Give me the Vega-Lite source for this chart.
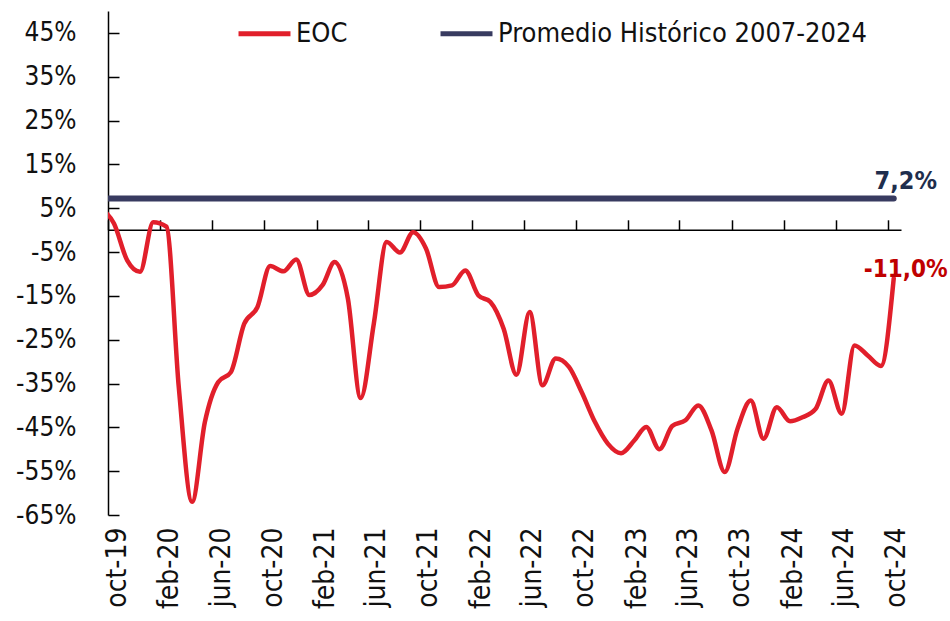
{
  "$schema": "https://vega.github.io/schema/vega-lite/v6.json",
  "width": 793,
  "height": 504,
  "autosize": "none",
  "padding": {"left": 108, "top": 11, "right": 49, "bottom": 106},
  "background": "white",
  "config": {
    "view": {"stroke": null},
    "font": "DejaVu Sans Condensed",
    "axis": {"labelFont": "DejaVu Sans Condensed", "labelColor": "#111111", "grid": false, "title": null},
    "legend": {"labelFont": "DejaVu Sans Condensed"}
  },
  "datasets": {
    "eoc": [
      {"date": "2019-09-15", "value": 5.0, "series": "EOC"},
      {"date": "2019-10-15", "value": 1.5, "series": "EOC"},
      {"date": "2019-11-15", "value": -6.9, "series": "EOC"},
      {"date": "2019-12-15", "value": -9.5, "series": "EOC"},
      {"date": "2020-01-15", "value": 1.8, "series": "EOC"},
      {"date": "2020-02-15", "value": 0.8, "series": "EOC"},
      {"date": "2020-03-15", "value": -36.0, "series": "EOC"},
      {"date": "2020-04-15", "value": -62.0, "series": "EOC"},
      {"date": "2020-05-15", "value": -43.8, "series": "EOC"},
      {"date": "2020-06-15", "value": -34.7, "series": "EOC"},
      {"date": "2020-07-15", "value": -32.4, "series": "EOC"},
      {"date": "2020-08-15", "value": -21.4, "series": "EOC"},
      {"date": "2020-09-15", "value": -17.6, "series": "EOC"},
      {"date": "2020-10-15", "value": -8.2, "series": "EOC"},
      {"date": "2020-11-15", "value": -9.4, "series": "EOC"},
      {"date": "2020-12-15", "value": -6.7, "series": "EOC"},
      {"date": "2021-01-15", "value": -14.8, "series": "EOC"},
      {"date": "2021-02-15", "value": -12.5, "series": "EOC"},
      {"date": "2021-03-15", "value": -7.3, "series": "EOC"},
      {"date": "2021-04-15", "value": -15.6, "series": "EOC"},
      {"date": "2021-05-15", "value": -38.3, "series": "EOC"},
      {"date": "2021-06-15", "value": -21.2, "series": "EOC"},
      {"date": "2021-07-15", "value": -2.7, "series": "EOC"},
      {"date": "2021-08-15", "value": -5.1, "series": "EOC"},
      {"date": "2021-09-15", "value": -0.5, "series": "EOC"},
      {"date": "2021-10-15", "value": -4.2, "series": "EOC"},
      {"date": "2021-11-15", "value": -13.0, "series": "EOC"},
      {"date": "2021-12-15", "value": -12.6, "series": "EOC"},
      {"date": "2022-01-15", "value": -9.2, "series": "EOC"},
      {"date": "2022-02-15", "value": -14.9, "series": "EOC"},
      {"date": "2022-03-15", "value": -16.4, "series": "EOC"},
      {"date": "2022-04-15", "value": -22.5, "series": "EOC"},
      {"date": "2022-05-15", "value": -33.0, "series": "EOC"},
      {"date": "2022-06-15", "value": -18.7, "series": "EOC"},
      {"date": "2022-07-15", "value": -35.4, "series": "EOC"},
      {"date": "2022-08-15", "value": -29.3, "series": "EOC"},
      {"date": "2022-09-15", "value": -31.2, "series": "EOC"},
      {"date": "2022-10-15", "value": -37.0, "series": "EOC"},
      {"date": "2022-11-15", "value": -43.8, "series": "EOC"},
      {"date": "2022-12-15", "value": -48.7, "series": "EOC"},
      {"date": "2023-01-15", "value": -50.9, "series": "EOC"},
      {"date": "2023-02-15", "value": -48.0, "series": "EOC"},
      {"date": "2023-03-15", "value": -44.9, "series": "EOC"},
      {"date": "2023-04-15", "value": -50.0, "series": "EOC"},
      {"date": "2023-05-15", "value": -44.7, "series": "EOC"},
      {"date": "2023-06-15", "value": -43.4, "series": "EOC"},
      {"date": "2023-07-15", "value": -40.0, "series": "EOC"},
      {"date": "2023-08-15", "value": -45.7, "series": "EOC"},
      {"date": "2023-09-15", "value": -55.2, "series": "EOC"},
      {"date": "2023-10-15", "value": -45.3, "series": "EOC"},
      {"date": "2023-11-15", "value": -38.9, "series": "EOC"},
      {"date": "2023-12-15", "value": -47.6, "series": "EOC"},
      {"date": "2024-01-15", "value": -40.4, "series": "EOC"},
      {"date": "2024-02-15", "value": -43.6, "series": "EOC"},
      {"date": "2024-03-15", "value": -42.7, "series": "EOC"},
      {"date": "2024-04-15", "value": -40.8, "series": "EOC"},
      {"date": "2024-05-15", "value": -34.3, "series": "EOC"},
      {"date": "2024-06-15", "value": -41.9, "series": "EOC"},
      {"date": "2024-07-15", "value": -26.3, "series": "EOC"},
      {"date": "2024-08-15", "value": -28.6, "series": "EOC"},
      {"date": "2024-09-15", "value": -31.0, "series": "EOC"},
      {"date": "2024-10-15", "value": -11.0, "series": "EOC"}
    ],
    "prom": [
      {"date": "2019-09-15", "value": 7.2, "series": "Promedio Histórico 2007-2024"},
      {"date": "2024-10-15", "value": 7.2, "series": "Promedio Histórico 2007-2024"}
    ],
    "lab_prom": [{"date": "2024-10-15", "value": 7.2, "label": "7,2%"}],
    "lab_eoc": [{"date": "2024-10-15", "value": -11.0, "label": "-11,0%"}]
  },
  "resolve": {"axis": {"x": "independent"}},
  "layer": [
    {
      "data": {"name": "prom"},
      "mark": {"type": "line", "strokeWidth": 6, "strokeCap": "round", "clip": true},
      "encoding": {
        "x": {
          "field": "date", "type": "temporal",
          "scale": {"type": "utc", "domain": [{"year": 2019, "month": 10, "date": 1, "utc": true}, {"year": 2024, "month": 11, "date": 1, "utc": true}]},
          "axis": {
            "orient": "top", "offset": -218.8, "labels": false,
            "values": [
              {"year": 2019, "month": 10, "date": 1, "utc": true},
              {"year": 2020, "month": 2, "date": 1, "utc": true},
              {"year": 2020, "month": 6, "date": 1, "utc": true},
              {"year": 2020, "month": 10, "date": 1, "utc": true},
              {"year": 2021, "month": 2, "date": 1, "utc": true},
              {"year": 2021, "month": 6, "date": 1, "utc": true},
              {"year": 2021, "month": 10, "date": 1, "utc": true},
              {"year": 2022, "month": 2, "date": 1, "utc": true},
              {"year": 2022, "month": 6, "date": 1, "utc": true},
              {"year": 2022, "month": 10, "date": 1, "utc": true},
              {"year": 2023, "month": 2, "date": 1, "utc": true},
              {"year": 2023, "month": 6, "date": 1, "utc": true},
              {"year": 2023, "month": 10, "date": 1, "utc": true},
              {"year": 2024, "month": 2, "date": 1, "utc": true},
              {"year": 2024, "month": 6, "date": 1, "utc": true},
              {"year": 2024, "month": 10, "date": 1, "utc": true}
            ],
            "tickSize": 10, "tickWidth": 1.5, "tickColor": "#000000",
            "domainColor": "#000000", "domainWidth": 1.5, "title": null
          }
        },
        "y": {"field": "value", "type": "quantitative"},
        "color": {
          "field": "series", "type": "nominal",
          "scale": {"domain": ["EOC", "Promedio Histórico 2007-2024"], "range": ["#E11F2B", "#383B60"]},
          "legend": {
            "orient": "none", "legendX": 128, "legendY": -6, "direction": "horizontal",
            "title": null, "symbolType": "stroke", "symbolSize": 2700, "symbolStrokeWidth": 5,
            "labelFontSize": 27, "labelOffset": 3, "columnPadding": 82, "labelColor": "#111111", "padding": 0,
            "labelLimit": 500
          }
        }
      }
    },
    {
      "data": {"name": "eoc"},
      "mark": {"type": "line", "interpolate": "monotone", "strokeWidth": 4.5, "strokeCap": "round", "clip": true},
      "encoding": {
        "x": {
          "field": "date", "type": "temporal",
          "axis": {
            "orient": "bottom",
            "values": [
              {"year": 2019, "month": 10, "date": 1, "utc": true},
              {"year": 2020, "month": 2, "date": 1, "utc": true},
              {"year": 2020, "month": 6, "date": 1, "utc": true},
              {"year": 2020, "month": 10, "date": 1, "utc": true},
              {"year": 2021, "month": 2, "date": 1, "utc": true},
              {"year": 2021, "month": 6, "date": 1, "utc": true},
              {"year": 2021, "month": 10, "date": 1, "utc": true},
              {"year": 2022, "month": 2, "date": 1, "utc": true},
              {"year": 2022, "month": 6, "date": 1, "utc": true},
              {"year": 2022, "month": 10, "date": 1, "utc": true},
              {"year": 2023, "month": 2, "date": 1, "utc": true},
              {"year": 2023, "month": 6, "date": 1, "utc": true},
              {"year": 2023, "month": 10, "date": 1, "utc": true},
              {"year": 2024, "month": 2, "date": 1, "utc": true},
              {"year": 2024, "month": 6, "date": 1, "utc": true},
              {"year": 2024, "month": 10, "date": 1, "utc": true}
            ],
            "labelExpr": "lower(utcFormat(datum.value, '%b-%y'))",
            "labelAngle": -90, "labelAlign": "right", "labelBaseline": "middle",
            "labelOffset": 9, "labelPadding": 12, "labelFontSize": 28,
            "domain": false, "ticks": false, "title": null, "labelOverlap": false
          }
        },
        "y": {
          "field": "value", "type": "quantitative",
          "scale": {"domain": [-65, 50], "nice": false, "zero": false},
          "axis": {
            "values": [-65, -55, -45, -35, -25, -15, -5, 5, 15, 25, 35, 45],
            "labelExpr": "datum.value + '%'",
            "tickSize": -11, "tickWidth": 1.5, "tickColor": "#000000",
            "domainColor": "#000000", "domainWidth": 1.5,
            "labelPadding": 43, "labelFontSize": 26, "title": null
          }
        },
        "color": {"field": "series", "type": "nominal"}
      }
    },
    {
      "data": {"name": "lab_prom"},
      "mark": {"type": "text", "font": "DejaVu Sans Condensed", "fontWeight": "bold", "fontSize": 25, "color": "#1F2E4D", "align": "center", "baseline": "middle", "dx": 12, "dy": -18},
      "encoding": {
        "x": {"field": "date", "type": "temporal", "axis": null},
        "y": {"field": "value", "type": "quantitative"},
        "text": {"field": "label"}
      }
    },
    {
      "data": {"name": "lab_eoc"},
      "mark": {"type": "text", "font": "DejaVu Sans Condensed", "fontWeight": "bold", "fontSize": 24, "color": "#C00000", "align": "center", "baseline": "middle", "dx": 12, "dy": -8},
      "encoding": {
        "x": {"field": "date", "type": "temporal", "axis": null},
        "y": {"field": "value", "type": "quantitative"},
        "text": {"field": "label"}
      }
    }
  ]
}
